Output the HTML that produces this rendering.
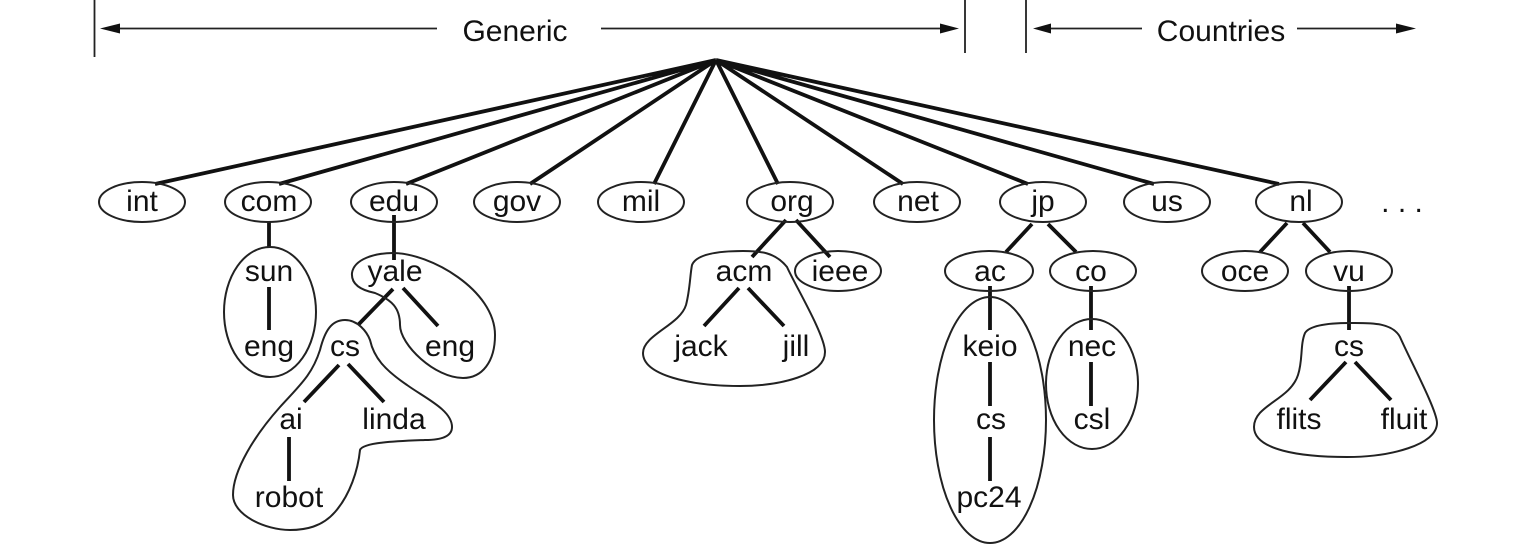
<!DOCTYPE html>
<html>
<head>
<meta charset="utf-8">
<style>
html,body{margin:0;padding:0;background:#fff;width:1523px;height:544px;overflow:hidden}
svg{display:block}
text{font-family:"Liberation Sans",sans-serif;font-size:30px;fill:#111;text-anchor:middle}
.t{stroke:#111;stroke-width:3.8;fill:none}
.n{stroke:#222;stroke-width:2;fill:none}
.h{stroke:#222;stroke-width:1.8;fill:none}
.a{fill:#111;stroke:none}
</style>
</head>
<body>
<svg width="1523" height="544" viewBox="0 0 1523 544" xmlns="http://www.w3.org/2000/svg">
<!-- header -->
<g class="h">
<path d="M94.500 0V57M965 0V53M1026 0V53"/>
<path d="M110 28.500H437M601 28.500H948M1043 28.500H1142M1297 28.500H1405"/>
</g>
<g class="a">
<polygon points="100,28.500 120,23.500 120,33.500"/>
<polygon points="959,28.500 940,23.500 940,33.500"/>
<polygon points="1033,28.500 1051,23.500 1051,33.500"/>
<polygon points="1416,28.500 1396,23.500 1396,33.500"/>
</g>
<text x="515" y="41">Generic</text>
<text x="1221" y="41">Countries</text>

<!-- fan -->
<g class="t">
<path d="M716 60L155 184M716 60L279 184M716 60L406 184M716 60L530 184M716 60L654 184M716 60L778 184M716 60L903 184M716 60L1028 184M716 60L1154 184M716 60L1279 184"/>
<!-- tree edges -->
<path d="M269 222V247M269 287V330"/>
<path d="M394 215V260M393 289L358 325M403 288L438 326M339 365L304 402M348 364L384 402M289 437V481"/>
<path d="M786 220L752 257M796 220L830 257M739 288L704 326M748 288L784 326"/>
<path d="M1032 224L1006 252M1048 224L1076 252M990 286V330M990 362V406M990 437V481M1091 286V330M1091 362V406"/>
<path d="M1287 223L1260 252M1303 223L1330 252M1349 286V330M1346 362L1310 400M1355 362L1391 400"/>
</g>

<!-- top-level ellipses -->
<g class="n">
<ellipse cx="142" cy="202" rx="43" ry="20"/>
<ellipse cx="268" cy="202" rx="43" ry="20"/>
<ellipse cx="394" cy="202" rx="43" ry="20"/>
<ellipse cx="517" cy="202" rx="43" ry="20"/>
<ellipse cx="641" cy="202" rx="43" ry="20"/>
<ellipse cx="790" cy="202" rx="43" ry="20"/>
<ellipse cx="917" cy="202" rx="43" ry="20"/>
<ellipse cx="1043" cy="202" rx="43" ry="20"/>
<ellipse cx="1167" cy="202" rx="43" ry="20"/>
<ellipse cx="1299" cy="202" rx="43" ry="20"/>
<!-- second-level -->
<ellipse cx="838" cy="271" rx="43" ry="20"/>
<ellipse cx="989" cy="271" rx="44" ry="20"/>
<ellipse cx="1093" cy="271" rx="43" ry="20"/>
<ellipse cx="1245" cy="271" rx="43" ry="20"/>
<ellipse cx="1349" cy="271" rx="43" ry="20"/>
<!-- zones -->
<ellipse cx="270" cy="312" rx="46" ry="65"/>
<ellipse cx="990" cy="420" rx="56" ry="123"/>
<ellipse cx="1092" cy="384" rx="46" ry="65"/>
<path d="M352 273C354 259 375 253 393 253C430 253 495 290 495 335C495 362 482 378 463 378C435 378 400 345 400 325C400 308 392 300 375 293C360 290 351 284 352 273Z"/>
<path d="M320 350C325 330 332 320 345 320C358 320 367 332 370 340C374 358 385 370 407 385C425 398 452 410 452 427C452 437 440 440 425 440C400 441 363 442 360 450C358 470 350 495 335 512C322 527 305 530 290 530C265 530 233 515 233 495C233 470 255 435 280 407C300 385 312 375 320 350Z"/>
<path d="M692 265C696 255 715 251 743 251C760 251 775 252 787 267C795 285 825 335 825 352C825 375 780 386 740 386C690 386 643 375 643 353C643 335 680 325 686 305C690 290 690 275 692 265Z"/>
<path d="M1305 333C1310 325 1330 323 1350 323C1370 323 1392 322 1400 337C1410 360 1437 410 1437 423C1437 445 1390 457 1347 457C1300 457 1254 450 1254 427C1254 405 1290 400 1298 375C1303 360 1300 345 1305 333Z"/>
</g>

<!-- labels -->
<text x="142" y="211">int</text>
<text x="269" y="211">com</text>
<text x="394" y="211">edu</text>
<text x="517" y="211">gov</text>
<text x="641" y="211">mil</text>
<text x="792" y="211">org</text>
<text x="918" y="211">net</text>
<text x="1043" y="211">jp</text>
<text x="1167" y="211">us</text>
<text x="1301" y="211">nl</text>
<text x="1402" y="212">. . .</text>

<text x="269" y="281">sun</text>
<text x="395" y="281">yale</text>
<text x="744" y="281">acm</text>
<text x="840" y="281">ieee</text>
<text x="990" y="281">ac</text>
<text x="1091" y="281">co</text>
<text x="1245" y="281">oce</text>
<text x="1349" y="281">vu</text>

<text x="269" y="356">eng</text>
<text x="345" y="356">cs</text>
<text x="450" y="356">eng</text>
<text x="701" y="356">jack</text>
<text x="796" y="356">jill</text>
<text x="990" y="356">keio</text>
<text x="1092" y="356">nec</text>
<text x="1349" y="356">cs</text>

<text x="291" y="429">ai</text>
<text x="394" y="429">linda</text>
<text x="991" y="429">cs</text>
<text x="1092" y="429">csl</text>
<text x="1299" y="429">flits</text>
<text x="1404" y="429">fluit</text>

<text x="289" y="507">robot</text>
<text x="989" y="507">pc24</text>
</svg>
</body>
</html>
